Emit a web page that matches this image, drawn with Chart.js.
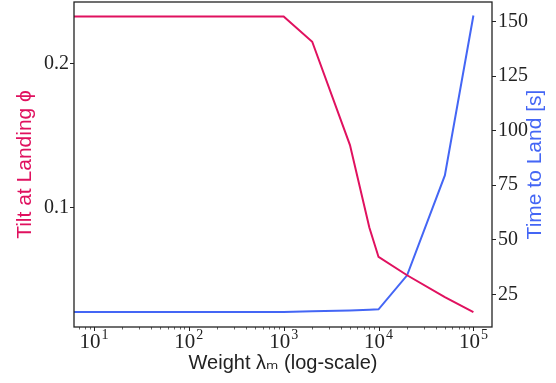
<!DOCTYPE html>
<html>
<head>
<meta charset="utf-8">
<script src="https://cdn.jsdelivr.net/npm/chart.js@4"></script>
<style>
  html, body { margin: 0; padding: 0; background: #fff; }
  #wrap { width: 556px; height: 383px; }
</style>
</head>
<body>
<div id="wrap"><canvas id="chart"></canvas></div>
<script>
// data
const weights = [1, 10, 100, 1000, 2000, 5000, 8000, 10000, 20000, 50000, 100000];
const tilt = [0.2326, 0.2326, 0.2326, 0.2326, 0.215, 0.1433, 0.0861, 0.0657, 0.053, 0.0379, 0.0275];
const landTime = [16.9, 16.9, 16.9, 16.9, 17.2, 17.6, 17.9, 18.1, 33.7, 79.5, 152.8];
const xDecades = [1, 10, 100, 1000, 10000, 100000];
const xLabelExps = [1, 2, 3, 4, 5];
const tiltTicks = [0.1, 0.2];
const timeTicks = [25, 50, 75, 100, 125, 150];

const RED = '#e0115f';
const BLUE = '#4466f5';
const INK = '#222';
const SERIF = "'Liberation Serif', serif";
const SANS = "'Liberation Sans', 'DejaVu Sans', sans-serif";

const X_MIN = 6.17, X_MAX = 157000;

// frame, x ticks with 10^n labels, and the right-hand title
const decorations = {
  id: 'decorations',
  afterDraw(chart) {
    const { ctx, chartArea: a, scales } = chart;
    const x = scales.x;
    ctx.save();
    // minor + major ticks on the log axis
    ctx.strokeStyle = INK;
    xDecades.forEach(d => {
      for (let k = 1; k <= 9; k++) {
        const v = d * k;
        if (v < X_MIN || v > X_MAX) continue;
        const px = Math.round(x.getPixelForValue(v)) + 0.5;
        ctx.lineWidth = k === 1 ? 1 : 0.7;
        ctx.beginPath();
        ctx.moveTo(px, a.bottom);
        ctx.lineTo(px, a.bottom + (k === 1 ? 4 : 2.5));
        ctx.stroke();
      }
    });
    // decade labels
    ctx.fillStyle = INK;
    ctx.textBaseline = 'alphabetic';
    xLabelExps.forEach(e => {
      const px = x.getPixelForValue(Math.pow(10, e));
      ctx.font = '21px ' + SERIF;
      const wBase = ctx.measureText('10').width;
      ctx.font = '14px ' + SERIF;
      const wExp = ctx.measureText(String(e)).width;
      const left = px - (wBase + wExp + 1) / 2;
      ctx.font = '21px ' + SERIF;
      ctx.textAlign = 'left';
      ctx.fillText('10', left, 348);
      ctx.font = '14px ' + SERIF;
      ctx.fillText(String(e), left + wBase + 1, 338.5);
    });
    // right axis title, reading bottom to top like the left one
    ctx.font = '21px ' + SANS;
    ctx.fillStyle = BLUE;
    ctx.textAlign = 'center';
    ctx.textBaseline = 'middle';
    ctx.translate(535, (a.top + a.bottom) / 2);
    ctx.rotate(-Math.PI / 2);
    ctx.fillText('Time to Land [s]', 0, 0);
    ctx.restore();
    // box
    ctx.save();
    ctx.strokeStyle = INK;
    ctx.lineWidth = 1.3;
    ctx.strokeRect(a.left, a.top, a.right - a.left, a.bottom - a.top);
    ctx.restore();
  }
};

function noPad(s) {
  s.paddingTop = 0; s.paddingBottom = 0; s.paddingLeft = 0; s.paddingRight = 0;
}

new Chart(document.getElementById('chart'), {
  type: 'line',
  data: {
    labels: weights,
    datasets: [{
      label: 'Tilt at Landing',
      data: weights.map((w, i) => ({ x: w, y: tilt[i] })),
      borderColor: RED,
      borderWidth: 2,
      pointRadius: 0,
      tension: 0,
      yAxisID: 'y'
    }, {
      label: 'Time to Land',
      data: weights.map((w, i) => ({ x: w, y: landTime[i] })),
      borderColor: BLUE,
      borderWidth: 2,
      pointRadius: 0,
      tension: 0,
      yAxisID: 'y1'
    }]
  },
  options: {
    responsive: true,
    maintainAspectRatio: false,
    animation: false,
    layout: { padding: { top: 2, right: 0, left: 0, bottom: 0 } },
    plugins: { legend: { display: false }, tooltip: { enabled: false } },
    scales: {
      x: {
        type: 'logarithmic',
        min: X_MIN,
        max: X_MAX,
        grid: { display: false },
        border: { display: false },
        ticks: { display: false },
        title: {
          display: true,
          text: 'Weight λₘ (log-scale)',
          color: INK,
          font: { family: SANS, size: 20 },
          padding: { top: 0, bottom: 8 }
        },
        afterFit(s) { s.height = 56; noPad(s); }
      },
      y: {
        position: 'left',
        min: 0.0171,
        max: 0.2426,
        afterBuildTicks(s) { s.ticks = tiltTicks.map(v => ({ value: v })); },
        grid: { drawOnChartArea: false, drawTicks: true, tickLength: 4, tickColor: INK, tickWidth: 1 },
        border: { display: false },
        ticks: {
          color: INK,
          padding: 1,
          font: { family: SERIF, size: 20 },
          callback: v => v.toFixed(1)
        },
        title: {
          display: true,
          text: 'Tilt at Landing ϕ',
          color: RED,
          font: { family: SANS, size: 21 },
          padding: { top: 13, bottom: 0 }
        },
        afterFit(s) { s.width = 74; noPad(s); }
      },
      y1: {
        position: 'right',
        min: 10,
        max: 159,
        afterBuildTicks(s) { s.ticks = timeTicks.map(v => ({ value: v })); },
        grid: { drawOnChartArea: false, drawTicks: true, tickLength: 4, tickColor: INK, tickWidth: 1 },
        border: { display: false },
        ticks: {
          color: INK,
          padding: 2,
          font: { family: SERIF, size: 20 },
          callback: v => String(v)
        },
        afterFit(s) { s.width = 64; noPad(s); }
      }
    }
  },
  plugins: [decorations]
});
</script>
</body>
</html>
